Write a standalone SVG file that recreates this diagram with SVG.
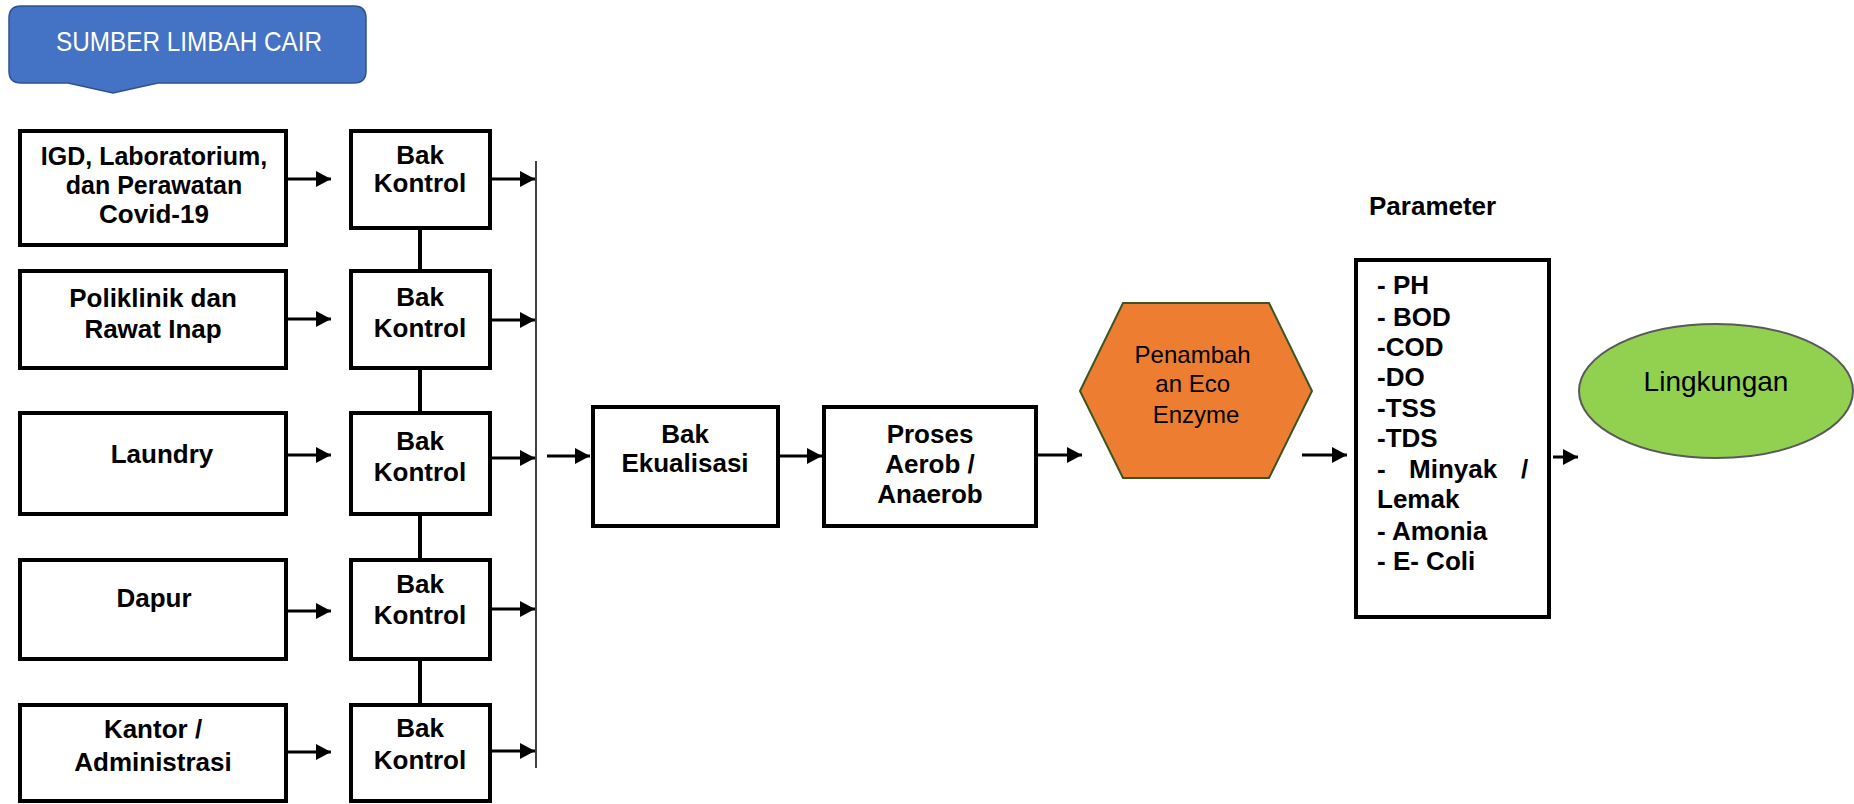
<svg xmlns="http://www.w3.org/2000/svg" width="1854" height="804" viewBox="0 0 1854 804">
<style>
.box{fill:#fff;stroke:#000;stroke-width:4}
.t{font-family:"Liberation Sans",Arial,sans-serif;font-weight:bold;font-size:26px;fill:#000;text-anchor:middle}
.s{font-size:25px}
.p{font-family:"Liberation Sans",Arial,sans-serif;font-weight:bold;font-size:26px;fill:#000}
.c{stroke:#000;stroke-width:3;fill:none}
.v{stroke:#000;stroke-width:4;fill:none}
</style>
<defs>
<marker id="ah" markerUnits="userSpaceOnUse" markerWidth="16" markerHeight="16" refX="15" refY="8" orient="auto">
<path d="M0,0 L15,8 L0,16 Z" fill="#000"/>
</marker>
</defs>
<rect width="1854" height="804" fill="#fff"/>

<g id="callout">
<path d="M21 6 H354 Q366 6 366 18 V71 Q366 83 354 83 H158 L113 93 L68 83 H21 Q9 83 9 71 V18 Q9 6 21 6 Z" fill="#4472C4" stroke="#2F528F" stroke-width="1.5"/>
<text x="189" y="51" font-family="'Liberation Sans',Arial,sans-serif" font-size="28" fill="#fff" text-anchor="middle" textLength="266" lengthAdjust="spacingAndGlyphs">SUMBER LIMBAH CAIR</text>
</g>

<g id="connectors">
<line class="c" x1="288" y1="179" x2="331" y2="179" marker-end="url(#ah)"/>
<line class="c" x1="288" y1="319" x2="331" y2="319" marker-end="url(#ah)"/>
<line class="c" x1="288" y1="455" x2="331" y2="455" marker-end="url(#ah)"/>
<line class="c" x1="288" y1="611" x2="331" y2="611" marker-end="url(#ah)"/>
<line class="c" x1="288" y1="752" x2="331" y2="752" marker-end="url(#ah)"/>
<line class="c" x1="492" y1="179" x2="535" y2="179" marker-end="url(#ah)"/>
<line class="c" x1="492" y1="320" x2="535" y2="320" marker-end="url(#ah)"/>
<line class="c" x1="492" y1="458" x2="535" y2="458" marker-end="url(#ah)"/>
<line class="c" x1="492" y1="609" x2="535" y2="609" marker-end="url(#ah)"/>
<line class="c" x1="492" y1="751" x2="535" y2="751" marker-end="url(#ah)"/>
<line class="v" x1="420" y1="230" x2="420" y2="270"/>
<line class="v" x1="420" y1="369" x2="420" y2="411"/>
<line class="v" x1="420" y1="516" x2="420" y2="558"/>
<line class="v" x1="420" y1="661" x2="420" y2="704"/>
<line x1="536" y1="161" x2="536" y2="768" stroke="#000" stroke-width="1.5"/>
<line class="c" x1="547" y1="456" x2="590" y2="456" marker-end="url(#ah)"/>
<line class="c" x1="780" y1="456" x2="822" y2="456" marker-end="url(#ah)"/>
<line class="c" x1="1038" y1="455" x2="1082" y2="455" marker-end="url(#ah)"/>
<line class="c" x1="1302" y1="455" x2="1347" y2="455" marker-end="url(#ah)"/>
<line class="c" x1="1553" y1="457" x2="1578" y2="457" marker-end="url(#ah)"/>
</g>

<g id="igd">
<rect class="box" x="20" y="131" width="266" height="114"/>
<text class="t s" x="154" y="165">IGD, Laboratorium,</text>
<text class="t s" x="154" y="194">dan Perawatan</text>
<text class="t" x="154" y="223">Covid-19</text>
</g>
<g id="poliklinik">
<rect class="box" x="20" y="271" width="266" height="97"/>
<text class="t" x="153" y="307">Poliklinik dan</text>
<text class="t" x="153" y="338">Rawat Inap</text>
</g>
<g id="laundry">
<rect class="box" x="20" y="413" width="266" height="101"/>
<text class="t" x="162" y="463">Laundry</text>
</g>
<g id="dapur">
<rect class="box" x="20" y="560" width="266" height="99"/>
<text class="t" x="154" y="607">Dapur</text>
</g>
<g id="kantor">
<rect class="box" x="20" y="705" width="266" height="96"/>
<text class="t" x="153" y="738">Kantor /</text>
<text class="t" x="153" y="771">Administrasi</text>
</g>

<g id="bak1">
<rect class="box" x="351" y="131" width="139" height="97"/>
<text class="t" x="420" y="164">Bak</text>
<text class="t" x="420" y="192">Kontrol</text>
</g>
<g id="bak2">
<rect class="box" x="351" y="271" width="139" height="97"/>
<text class="t" x="420" y="306">Bak</text>
<text class="t" x="420" y="337">Kontrol</text>
</g>
<g id="bak3">
<rect class="box" x="351" y="413" width="139" height="101"/>
<text class="t" x="420" y="450">Bak</text>
<text class="t" x="420" y="481">Kontrol</text>
</g>
<g id="bak4">
<rect class="box" x="351" y="560" width="139" height="99"/>
<text class="t" x="420" y="593">Bak</text>
<text class="t" x="420" y="624">Kontrol</text>
</g>
<g id="bak5">
<rect class="box" x="351" y="705" width="139" height="96"/>
<text class="t" x="420" y="737">Bak</text>
<text class="t" x="420" y="769">Kontrol</text>
</g>

<g id="ekualisasi">
<rect class="box" x="593" y="407" width="185" height="119"/>
<text class="t" x="685" y="443">Bak</text>
<text class="t" x="685" y="472">Ekualisasi</text>
</g>
<g id="proses">
<rect class="box" x="824" y="407" width="212" height="119"/>
<text class="t" x="930" y="443">Proses</text>
<text class="t" x="930" y="473">Aerob /</text>
<text class="t" x="930" y="503">Anaerob</text>
</g>

<g id="ecoenzyme">
<polygon points="1080,391 1123,303 1269,303 1312,391 1269,478 1123,478" fill="#ED7D31" stroke="#375623" stroke-width="2"/>
<text font-family="'Liberation Sans',Arial,sans-serif" font-size="24" fill="#000" text-anchor="middle">
<tspan x="1196" y="363">Penambah</tspan>
<tspan x="1196" y="392">an Eco</tspan>
<tspan x="1196" y="423">Enzyme</tspan>
</text>
</g>

<g id="parameter">
<text class="p" x="1369" y="215" font-size="27">Parameter</text>
<rect class="box" x="1356" y="260" width="193" height="357"/>
<text class="p" x="1377" y="294">- PH</text>
<text class="p" x="1377" y="326">- BOD</text>
<text class="p" x="1377" y="356">-COD</text>
<text class="p" x="1377" y="386">-DO</text>
<text class="p" x="1377" y="417">-TSS</text>
<text class="p" x="1377" y="447">-TDS</text>
<text class="p" y="478"><tspan x="1377">-</tspan><tspan x="1409">Minyak</tspan><tspan x="1521">/</tspan></text>
<text class="p" x="1377" y="508">Lemak</text>
<text class="p" x="1377" y="540">- Amonia</text>
<text class="p" x="1377" y="570">- E- Coli</text>
</g>

<g id="lingkungan">
<ellipse cx="1716" cy="391" rx="137" ry="67" fill="#92D050" stroke="#595959" stroke-width="2"/>
<text x="1716" y="391" font-family="'Liberation Sans',Arial,sans-serif" font-size="28" fill="#000" text-anchor="middle">Lingkungan</text>
</g>
</svg>
